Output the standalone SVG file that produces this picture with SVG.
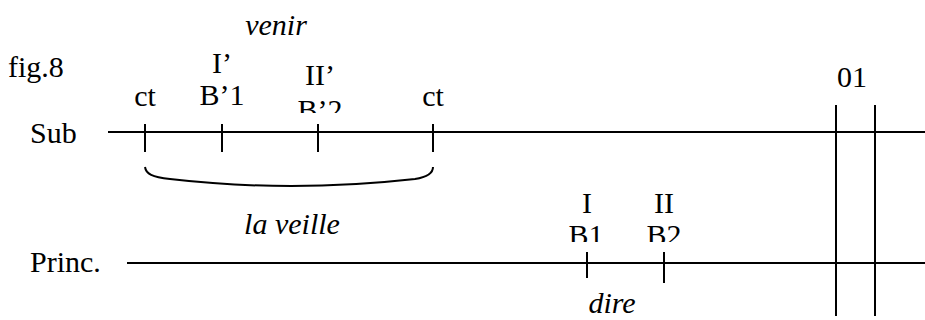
<svg xmlns="http://www.w3.org/2000/svg" width="925" height="320" viewBox="0 0 925 320">
<style>
  text { font-family: 'Liberation Serif', 'DejaVu Serif', serif; font-size: 30px; fill: #000; }
  .it { font-style: italic; }
  .c { text-anchor: middle; }
  line, path { stroke: #000; stroke-width: 2; fill: none; }
</style>
<defs>
  <clipPath id="clipSub"><rect x="0" y="0" width="925" height="113"/></clipPath>
  <clipPath id="clipPrinc"><rect x="0" y="150" width="925" height="92"/></clipPath>
</defs>
<rect width="925" height="320" fill="#fff"/>
<g id="title"><text x="8" y="77">fig.8</text></g>
<g id="sub-label"><text x="30" y="143">Sub</text></g>
<g id="princ-label"><text x="30" y="272">Princ.</text></g>
<g id="venir"><text class="it c" x="276" y="35">venir</text></g>
<g id="ct1"><text class="c" x="145" y="106">ct</text></g>
<g id="b1p"><text class="c" x="222" y="73">I’</text><text class="c" x="222" y="105">B’1</text></g>
<g id="b2p"><text class="c" x="320" y="85">II’</text><text class="c" x="320" y="120" clip-path="url(#clipSub)">B’2</text></g>
<g id="ct2"><text class="c" x="433" y="106">ct</text></g>
<g id="o1"><text class="c" x="852" y="87">01</text></g>
<g id="laveille"><text class="it c" x="292" y="234">la veille</text></g>
<g id="b1"><text class="c" x="587" y="213">I</text><text class="c" x="586" y="245" clip-path="url(#clipPrinc)">B1</text></g>
<g id="b2"><text class="c" x="664" y="213">II</text><text class="c" x="664" y="245" clip-path="url(#clipPrinc)">B2</text></g>
<g id="dire"><text class="it c" x="612" y="313">dire</text></g>
<g id="connectors">
  <line x1="108" y1="132" x2="925" y2="132"/>
  <line x1="145" y1="124" x2="145" y2="152"/>
  <line x1="222" y1="124" x2="222" y2="152"/>
  <line x1="318" y1="124" x2="318" y2="152"/>
  <line x1="433" y1="124" x2="433" y2="152"/>
  <path d="M145,167 C146,174 152,177 170,179 Q290,193 415,179 C428,177 433,173 433,167"/>
  <line x1="127" y1="263" x2="925" y2="263"/>
  <line x1="587" y1="252" x2="587" y2="278"/>
  <line x1="664" y1="252" x2="664" y2="283"/>
  <line x1="836" y1="105" x2="836" y2="316"/>
  <line x1="875" y1="105" x2="875" y2="316"/>
</g>
</svg>
